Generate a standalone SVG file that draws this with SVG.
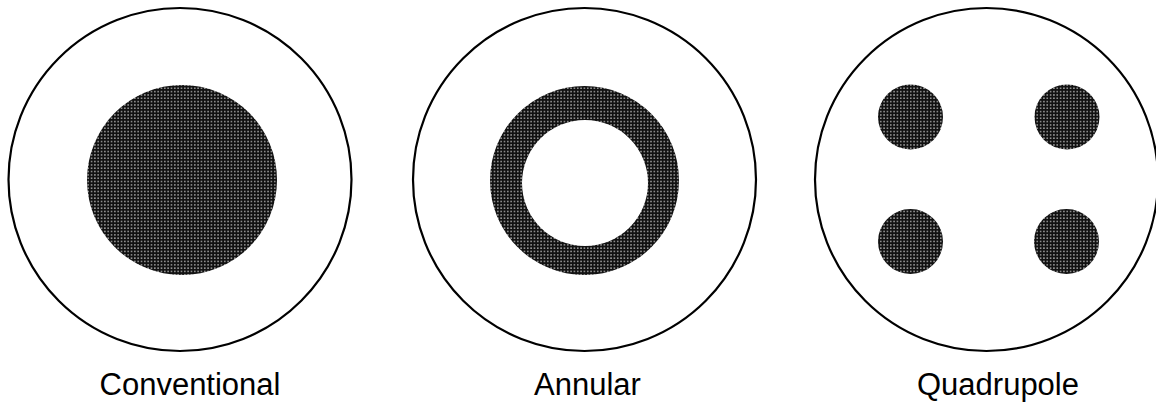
<svg xmlns="http://www.w3.org/2000/svg" width="1156" height="404" viewBox="0 0 1156 404">
<style>
.outer{fill:none;stroke:#000;stroke-width:2.2}
.dot{fill:url(#stipple)}
.lbl{font-family:"Liberation Sans",Arial,sans-serif;font-size:31px;fill:#000;text-anchor:middle}
</style>
<defs>
<pattern id="stipple" patternUnits="userSpaceOnUse" width="3.33" height="3.33">
<rect width="3.33" height="3.33" fill="#111"/>
<circle cx="1.66" cy="1.66" r="0.7" fill="#fff"/>
</pattern>
</defs>
<rect width="1156" height="404" fill="#fff"/>
<g id="conventional">
<circle class="outer" cx="180" cy="179.5" r="171.5"/>
<circle class="dot" cx="182" cy="180" r="95"/>
<text class="lbl" x="190" y="395">Conventional</text>
</g>
<g id="annular">
<circle class="outer" cx="584.5" cy="179.5" r="171.5"/>
<path class="dot" fill-rule="evenodd" d="M490,180.5a94.5,94.5 0 1,0 189,0a94.5,94.5 0 1,0 -189,0Z M522,183a63,63 0 1,0 126,0a63,63 0 1,0 -126,0Z"/>
<text class="lbl" x="587.5" y="395">Annular</text>
</g>
<g id="quadrupole">
<circle class="outer" cx="986.5" cy="179.5" r="171.5"/>
<circle class="dot" cx="910.5" cy="117" r="32.5"/>
<circle class="dot" cx="1067" cy="117" r="32.5"/>
<circle class="dot" cx="910.5" cy="241.5" r="32.5"/>
<circle class="dot" cx="1066.5" cy="241.5" r="32.5"/>
<text class="lbl" x="998" y="395">Quadrupole</text>
</g>
<g id="connectors"/>
</svg>
